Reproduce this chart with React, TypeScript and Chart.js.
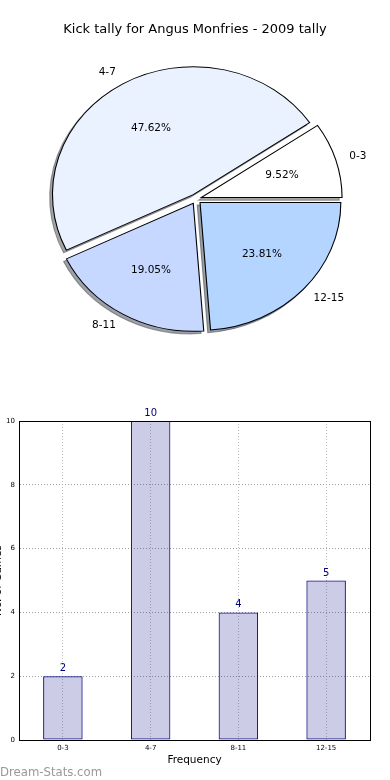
import React, { useEffect, useRef } from 'react';
import { Chart, registerables } from 'chart.js';

Chart.register(...registerables);
Chart.defaults.font.family = "'DejaVu Sans', sans-serif";

// ---- data ----
const categories = ['0-3', '4-7', '8-11', '12-15'];
const tally = [2, 10, 4, 5];
const pieColors = ['#ffffff', '#ebf2ff', '#c6d8ff', '#b4d5ff'];
const yTicks = [0, 2, 4, 6, 8, 10];
const chartTitle = 'Kick tally for Angus Monfries - 2009 tally';
const xTitle = 'Frequency';
const yTitle = 'No. of Games';
const watermark = 'Dream-Stats.com';

// ---- style constants ----
const SX = 1.1; // horizontal stretch of the pie (ellipse)
const EXPLODE = 5;
const SHADOW_DX = -2.8;
const SHADOW_DY = 2.6;
const FONT = "'DejaVu Sans', sans-serif";

function shadowOf(hex: string) {
  const n = parseInt(hex.slice(1), 16);
  const r = Math.round(((n >> 16) & 255) * 0.3);
  const g = Math.round(((n >> 8) & 255) * 0.3);
  const b = Math.round((n & 255) * 0.3);
  return `rgba(${r},${g},${b},0.5)`;
}

const total = tally.reduce((a, b) => a + b, 0);
// matplotlib draws counter-clockwise from 3 o'clock; Chart.js clockwise -> reverse order
const pieLabels = [...categories].reverse();
const pieValues = [...tally].reverse();
const pieFill = [...pieColors].reverse();
const pieShadow = pieFill.map(shadowOf);

const pieEllipse = {
  id: 'pieEllipse',
  beforeDatasetsDraw(chart: any) {
    const ctx = chart.ctx as CanvasRenderingContext2D;
    const els = chart.getDatasetMeta(0).data as any[];
    if (!els.length) return false;
    const cx = els[0].x, cy = els[0].y;
    ctx.save();
    ctx.translate(cx, cy);
    ctx.scale(SX, 1);
    ctx.translate(-cx, -cy);
    els.forEach((el, i) => {
      const mid = (el.startAngle + el.endAngle) / 2;
      ctx.save();
      ctx.translate(Math.cos(mid) * EXPLODE + SHADOW_DX / SX, Math.sin(mid) * EXPLODE + SHADOW_DY);
      ctx.beginPath();
      ctx.moveTo(cx, cy);
      ctx.arc(cx, cy, el.outerRadius, el.startAngle, el.endAngle);
      ctx.closePath();
      ctx.fillStyle = pieShadow[i];
      ctx.strokeStyle = pieShadow[i];
      ctx.lineWidth = 1;
      ctx.fill();
      ctx.stroke();
      ctx.restore();
    });
    els.forEach((el) => {
      const mid = (el.startAngle + el.endAngle) / 2;
      ctx.save();
      ctx.translate(Math.cos(mid) * EXPLODE, Math.sin(mid) * EXPLODE);
      el.draw(ctx);
      ctx.restore();
    });
    ctx.restore();
    return false;
  },
  afterDraw(chart: any) {
    const ctx = chart.ctx as CanvasRenderingContext2D;
    const els = chart.getDatasetMeta(0).data as any[];
    ctx.save();
    ctx.fillStyle = '#000';
    ctx.font = `13px ${FONT}`;
    ctx.textAlign = 'center';
    ctx.textBaseline = 'middle';
    ctx.fillText(chartTitle, 195, 29.5);
    ctx.font = `10.5px ${FONT}`;
    els.forEach((el, i) => {
      const mid = (el.startAngle + el.endAngle) / 2;
      const c = Math.cos(mid), s = Math.sin(mid);
      const ox = el.x + c * EXPLODE * SX;
      const oy = el.y + s * EXPLODE;
      const r = el.outerRadius;
      ctx.textBaseline = 'middle';
      ctx.textAlign = c > 0 ? 'left' : 'right';
      ctx.fillText(pieLabels[i], ox + c * 1.1 * r * SX, oy + s * 1.1 * r);
      ctx.textAlign = 'center';
      const pct = ((pieValues[i] / total) * 100).toFixed(2) + '%';
      ctx.fillText(pct, ox + c * 0.6 * r * SX, oy + s * 0.6 * r);
    });
    ctx.restore();
  },
};

const barDecor = {
  id: 'barDecor',
  afterDraw(chart: any) {
    const ctx = chart.ctx as CanvasRenderingContext2D;
    const { left, right, top, bottom } = chart.chartArea;
    ctx.save();
    ctx.strokeStyle = '#000';
    ctx.lineWidth = 1;
    ctx.strokeRect(left + 0.5, top + 0.5, right - left, bottom - top);
    // value labels
    const els = chart.getDatasetMeta(0).data as any[];
    ctx.fillStyle = '#000080';
    ctx.font = `10px ${FONT}`;
    ctx.textAlign = 'center';
    ctx.textBaseline = 'alphabetic';
    els.forEach((el, i) => {
      ctx.fillText(String(tally[i]), el.x, el.y - 5);
    });
    // x title
    ctx.fillStyle = '#000';
    ctx.font = `10.5px ${FONT}`;
    ctx.textBaseline = 'middle';
    ctx.fillText(xTitle, (left + right) / 2, 360);
    // y title (mostly cut off by the canvas edge)
    ctx.save();
    ctx.translate(0.5, (top + bottom) / 2);
    ctx.rotate(-Math.PI / 2);
    ctx.textBaseline = 'alphabetic';
    ctx.fillText(yTitle, 0, 0);
    ctx.restore();
    // watermark
    ctx.fillStyle = '#999';
    ctx.font = `11.7px ${FONT}`;
    ctx.textAlign = 'left';
    ctx.textBaseline = 'alphabetic';
    ctx.fillText(watermark, 0, 376);
    ctx.restore();
  },
};

export default function App() {
  const pieRef = useRef<HTMLCanvasElement>(null);
  const barRef = useRef<HTMLCanvasElement>(null);

  useEffect(() => {
    const pie = new Chart(pieRef.current!, {
      type: 'pie',
      data: {
        labels: pieLabels,
        datasets: [
          {
            data: pieValues,
            backgroundColor: pieFill,
            borderColor: '#000',
            borderWidth: 1,
            borderJoinStyle: 'miter',
            radius: 128,
            offset: 0,
            hoverOffset: 0,
          } as any,
        ],
      },
      options: {
        responsive: false,
        animation: false,
        devicePixelRatio: 1,
        events: [],
        rotation: 90,
        layout: { padding: { left: 2, right: 0, top: 0, bottom: 2 } },
        plugins: { legend: { display: false }, tooltip: { enabled: false } },
      } as any,
      plugins: [pieEllipse],
    });

    const borderCommon = { display: true, color: '#000', width: 1, dash: [1, 2] };

    const bar = new Chart(barRef.current!, {
      type: 'bar',
      data: {
        labels: categories,
        datasets: [
          {
            data: tally,
            backgroundColor: 'rgba(0,0,128,0.2)',
            borderColor: '#000080',
            borderWidth: 1,
            borderSkipped: false,
            barPercentage: 0.45,
            categoryPercentage: 1,
          },
        ],
      },
      options: {
        responsive: false,
        animation: false,
        devicePixelRatio: 1,
        events: [],
        layout: { padding: { top: 21, right: 20, left: 0, bottom: 0 } },
        plugins: { legend: { display: false }, tooltip: { enabled: false } },
        scales: {
          x: {
            z: 1,
            offset: true,
            grid: { color: '#bdbdbd', lineWidth: 1, drawTicks: false, offset: false },
            border: borderCommon,
            ticks: { font: { size: 7 }, color: '#000', padding: 4, maxRotation: 0 },
            afterFit: (s: any) => {
              s.height = 40;
            },
          },
          y: {
            z: 1,
            min: 0,
            max: 10,
            afterBuildTicks: (s: any) => {
              s.ticks = yTicks.map((v) => ({ value: v }));
            },
            grid: { color: '#a0a0a0', lineWidth: 1, drawTicks: false },
            border: borderCommon,
            ticks: { font: { size: 7 }, color: '#000', padding: 4 },
            afterFit: (s: any) => {
              s.width = 19;
            },
          },
        },
      } as any,
      plugins: [barDecor],
    });

    return () => {
      pie.destroy();
      bar.destroy();
    };
  }, []);

  return (
    <div style={{ position: 'absolute', left: 0, top: 0, width: 390, height: 780, background: '#fff' }}>
      <canvas
        ref={pieRef}
        width={390}
        height={400}
        style={{ position: 'absolute', left: 0, top: 0, width: 390, height: 400, display: 'block' }}
      />
      <canvas
        ref={barRef}
        width={390}
        height={380}
        style={{ position: 'absolute', left: 0, top: 400, width: 390, height: 380, display: 'block' }}
      />
    </div>
  );
}
